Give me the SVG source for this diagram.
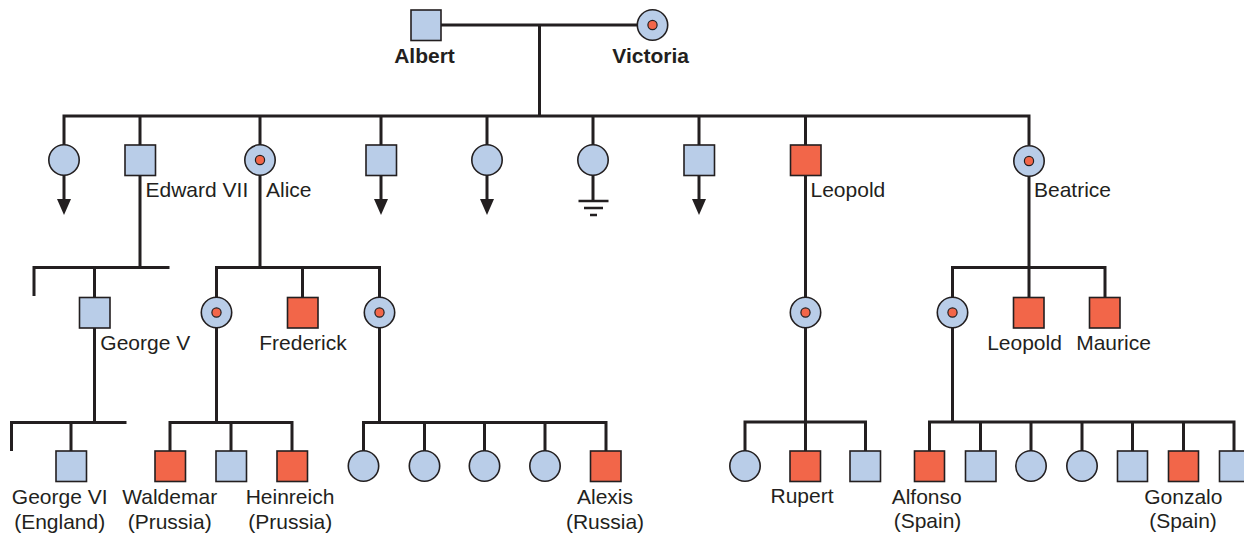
<svg xmlns="http://www.w3.org/2000/svg" width="1244" height="536" viewBox="0 0 1244 536">
<style>
.ln{stroke:#231f20;stroke-width:3;fill:none}
.m{fill:#b9cde8;stroke:#231f20;stroke-width:1.6}
.a{fill:#f26649;stroke:#231f20;stroke-width:1.6}
.f{fill:#b9cde8;stroke:#231f20;stroke-width:1.6}
.dot{fill:#f26649;stroke:#231f20;stroke-width:1.2}
text{font-family:"Liberation Sans",Arial,Helvetica,sans-serif;font-size:21px;fill:#231f20}
.b{font-weight:bold}
.c{text-anchor:middle}
</style>
<defs>
<marker id="arr" markerUnits="userSpaceOnUse" viewBox="0 -7 16 14" markerWidth="16" markerHeight="14" refX="0" refY="0" orient="auto">
<path d="M0,-7 L16,0 L0,7 z" fill="#231f20"/>
</marker>
</defs>
<rect width="1244" height="536" fill="#ffffff"/>
<g id="connectors">
<!-- parents -->
<path class="ln" d="M441,25 H637 M539.5,25 V116"/>
<path class="ln" d="M64,145 V116 H1029 V145 M140,116 V145 M260,116 V145 M381,116 V145 M487,116 V145 M593,116 V145 M699,116 V145 M805.5,116 V145"/>
<!-- descendant arrows -->
<path class="ln" d="M64,175 V199" marker-end="url(#arr)"/>
<path class="ln" d="M381,175 V199" marker-end="url(#arr)"/>
<path class="ln" d="M487,175 V199" marker-end="url(#arr)"/>
<path class="ln" d="M699,175 V199" marker-end="url(#arr)"/>
<!-- no issue -->
<path class="ln" d="M593,175 V201"/>
<path d="M578.5,201 H608.5 M584,208 H603 M590,215 H597" stroke="#231f20" stroke-width="2.6" fill="none"/>
<!-- Edward VII -->
<path class="ln" d="M140,175 V267.5 M34,296 V267.5 H169.5 M94.5,267.5 V297.5"/>
<path class="ln" d="M94.5,327.5 V422.5 M11.5,451 V422.5 H126.5 M71,422.5 V451"/>
<!-- Alice -->
<path class="ln" d="M260,175 V267.5 M216.5,297 V267.5 H379.5 V297 M302.5,267.5 V297.5"/>
<path class="ln" d="M216.5,327.5 V422.5 M170,451 V422.5 H292 V451 M231,422.5 V451"/>
<path class="ln" d="M379.5,327.5 V422.5 M363.5,451 V422.5 H606 V451 M424.5,422.5 V451 M484.5,422.5 V451 M545,422.5 V451"/>
<!-- Leopold -->
<path class="ln" d="M805.5,175 V297"/>
<path class="ln" d="M805.5,327.5 V422 M745,451 V422 H865.5 V451 M805.5,422 V451"/>
<!-- Beatrice -->
<path class="ln" d="M1029,175 V267.5 M952.5,297 V267.5 H1105 V297.5 M1029,267.5 V297.5"/>
<path class="ln" d="M952.5,327.5 V422 M929.5,451 V422 H1234 V451 M980.5,422 V451 M1031,422 V451 M1082,422 V451 M1132.5,422 V451 M1183.5,422 V451"/>
</g>
<g id="albert"><rect class="m" x="411" y="10" width="30" height="30.5"/><text class="b c" x="424.5" y="63">Albert</text></g>
<g id="victoria"><circle class="f" cx="652.5" cy="25" r="15.2"/><circle class="dot" cx="652.5" cy="25" r="4.6"/><text class="b c" x="650.7" y="63">Victoria</text></g>
<g id="child1"><circle class="f" cx="64" cy="160" r="15.2"/></g>
<g id="edward7"><rect class="m" x="125" y="145" width="30.5" height="30.5"/><text x="145.5" y="197">Edward VII</text></g>
<g id="alice"><circle class="f" cx="260" cy="160" r="15.2"/><circle class="dot" cx="260" cy="160" r="4.6"/><text x="266" y="197">Alice</text></g>
<g id="child4"><rect class="m" x="366" y="145" width="30.5" height="30.5"/></g>
<g id="child5"><circle class="f" cx="487" cy="160" r="15.2"/></g>
<g id="child6"><circle class="f" cx="593" cy="160" r="15.2"/></g>
<g id="child7"><rect class="m" x="684" y="145" width="30.5" height="30.5"/></g>
<g id="leopold1"><rect class="a" x="790.5" y="145" width="30.5" height="30.5"/><text x="810.5" y="197">Leopold</text></g>
<g id="beatrice"><circle class="f" cx="1029" cy="161" r="15.2"/><circle class="dot" cx="1029" cy="161" r="4.6"/><text x="1034" y="197">Beatrice</text></g>
<g id="george5"><rect class="m" x="79.5" y="297.5" width="30.5" height="30.5"/><text x="100.3" y="350">George V</text></g>
<g id="alice-d1"><circle class="f" cx="216.5" cy="312.5" r="15.2"/><circle class="dot" cx="216.5" cy="312.5" r="4.6"/></g>
<g id="frederick"><rect class="a" x="287.5" y="297.5" width="30.5" height="30.5"/><text class="c" x="303" y="350">Frederick</text></g>
<g id="alice-d2"><circle class="f" cx="379.5" cy="312.5" r="15.2"/><circle class="dot" cx="379.5" cy="312.5" r="4.6"/></g>
<g id="leopold-d"><circle class="f" cx="805.5" cy="312.5" r="15.2"/><circle class="dot" cx="805.5" cy="312.5" r="4.6"/></g>
<g id="beatrice-d"><circle class="f" cx="952.5" cy="312.5" r="15.2"/><circle class="dot" cx="952.5" cy="312.5" r="4.6"/></g>
<g id="leopold2"><rect class="a" x="1013.5" y="297.5" width="30.5" height="30.5"/><text class="c" x="1024.5" y="350">Leopold</text></g>
<g id="maurice"><rect class="a" x="1089.5" y="297.5" width="30.5" height="30.5"/><text class="c" x="1113.5" y="350">Maurice</text></g>
<g id="george6"><rect class="m" x="56" y="451" width="30.5" height="30.5"/><text class="c" x="59.7" y="503.5">George VI</text><text class="c" x="59.7" y="528.5">(England)</text></g>
<g id="waldemar"><rect class="a" x="155" y="451" width="30.5" height="30.5"/><text class="c" x="169.7" y="503.5">Waldemar</text><text class="c" x="169.7" y="528.5">(Prussia)</text></g>
<g id="sibling-w"><rect class="m" x="216" y="451" width="30.5" height="30.5"/></g>
<g id="heinreich"><rect class="a" x="277" y="451" width="30.5" height="30.5"/><text class="c" x="290" y="503.5">Heinreich</text><text class="c" x="290.3" y="528.5">(Prussia)</text></g>
<g id="rus1"><circle class="f" cx="363.5" cy="466" r="15.2"/></g>
<g id="rus2"><circle class="f" cx="424.5" cy="466" r="15.2"/></g>
<g id="rus3"><circle class="f" cx="484.5" cy="466" r="15.2"/></g>
<g id="rus4"><circle class="f" cx="545" cy="466" r="15.2"/></g>
<g id="alexis"><rect class="a" x="590.5" y="451" width="30.5" height="30.5"/><text class="c" x="605" y="503.5">Alexis</text><text class="c" x="605" y="528.5">(Russia)</text></g>
<g id="lp1"><circle class="f" cx="745" cy="466" r="15.2"/></g>
<g id="rupert"><rect class="a" x="790" y="451" width="30.5" height="30.5"/><text class="c" x="802" y="503">Rupert</text></g>
<g id="lp3"><rect class="m" x="850" y="451" width="30.5" height="30.5"/></g>
<g id="alfonso"><rect class="a" x="914.5" y="451" width="30" height="30.5"/><text class="c" x="926.7" y="503.5">Alfonso</text><text class="c" x="927.5" y="528">(Spain)</text></g>
<g id="sp2"><rect class="m" x="965.5" y="451" width="30.5" height="30.5"/></g>
<g id="sp3"><circle class="f" cx="1031" cy="466" r="15.2"/></g>
<g id="sp4"><circle class="f" cx="1082" cy="466" r="15.2"/></g>
<g id="sp5"><rect class="m" x="1117.5" y="451" width="30" height="30.5"/></g>
<g id="gonzalo"><rect class="a" x="1168.5" y="451" width="30" height="30.5"/><text class="c" x="1183.3" y="503.5">Gonzalo</text><text class="c" x="1183" y="528">(Spain)</text></g>
<g id="sp7"><rect class="m" x="1219.5" y="451" width="30" height="30.5"/></g>
</svg>
